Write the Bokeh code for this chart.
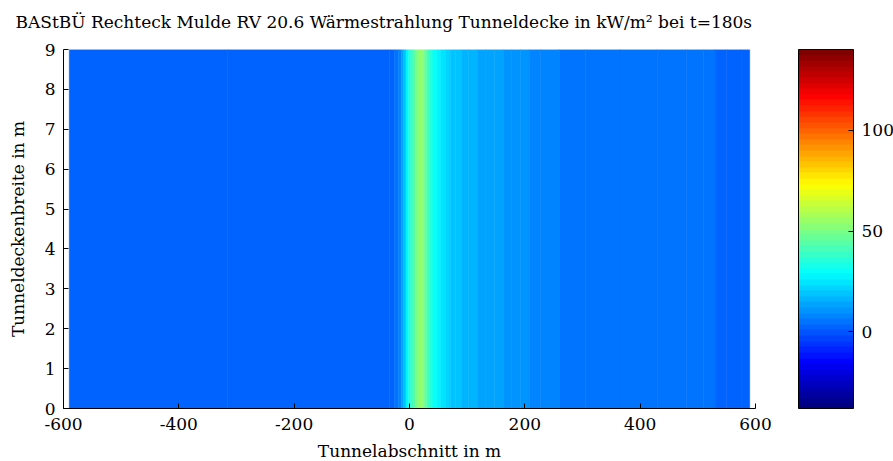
import numpy as np
from bokeh.plotting import figure
from bokeh.models import LinearColorMapper, ColorBar, FixedTicker, ColumnDataSource, Range1d, Title
from bokeh.transform import transform
from bokeh.embed import file_html
from bokeh.resources import INLINE

# Längsprofil der Wärmestrahlung an der Tunneldecke (t = 180 s)
abschnitt_m = [-590, -40, -30, -22, -16, -12, -8, -4, 0, 4, 8, 12, 16, 20, 24, 28,
               32, 36, 40, 45, 50, 58, 66, 75, 85, 95, 110, 125, 140, 155, 170,
               185, 200, 215, 240, 280, 330, 400, 460, 500, 520, 540, 560, 590]
strahlung_kw_m2 = [2, 2, 3, 5, 9, 14, 20, 27, 33, 39, 44, 49, 52, 54, 52, 47,
                   41, 36, 32, 29, 27, 25, 22, 20, 18, 17, 15, 14, 13, 13, 12,
                   11, 10, 9, 7, 6, 5.5, 5.5, 5.5, 5.5, 4, 3, 2.5, 2.5]
breite_m = [0, 9]

x_ticks = [-600, -400, -200, 0, 200, 400, 600]
y_ticks = [0, 1, 2, 3, 4, 5, 6, 7, 8, 9]
cbar_ticks = [0, 50, 100]
farb_min, farb_max = -38, 140
titel = "BAStBÜ Rechteck Mulde RV 20.6 Wärmestrahlung Tunneldecke in kW/m² bei t=180s"

FONT = "DejaVu Serif"
FS = "17px"
FRAME_W, FRAME_H = 692, 359


def jet(n):
    t = np.linspace(0, 1, n)
    r = np.clip(1.5 - np.abs(4 * t - 3), 0, 1)
    g = np.clip(1.5 - np.abs(4 * t - 2), 0, 1)
    b = np.clip(1.5 - np.abs(4 * t - 1), 0, 1)
    return ["#%02x%02x%02x" % (int(round(R * 255)), int(round(G * 255)), int(round(B * 255)))
            for R, G, B in zip(r, g, b)]


palette = jet(64)
mapper = LinearColorMapper(palette=palette, low=farb_min, high=farb_max)

xs = np.array(abschnitt_m, dtype=float)
mids = (xs[:-1] + xs[1:]) / 2
left = np.concatenate([[xs[0]], mids])
right = np.concatenate([mids, [xs[-1]]])
src = ColumnDataSource(dict(left=left, right=right,
                            bottom=[breite_m[0]] * len(xs), top=[breite_m[1]] * len(xs),
                            val=strahlung_kw_m2))

p = figure(frame_width=FRAME_W, frame_height=FRAME_H, output_backend="svg", toolbar_location=None,
           x_range=Range1d(x_ticks[0], x_ticks[-1]), y_range=Range1d(y_ticks[0], y_ticks[-1]),
           min_border_left=63, min_border_bottom=53, min_border_top=49, min_border_right=138)

p.quad(left="left", right="right", bottom="bottom", top="top", source=src,
       fill_color=transform("val", mapper), line_color=transform("val", mapper), line_width=0.5)

# a blank line between frame and heading keeps the heading near the page top
p.add_layout(Title(text=" ", text_font_size="14px", standoff=0), "above")
p.add_layout(Title(text=titel, text_font=FONT, text_font_size=FS, text_font_style="normal",
                   text_color="black", align="left", offset=-48, standoff=0), "above")

p.outline_line_color = None
p.xgrid.visible = False
p.ygrid.visible = False
p.background_fill_color = "white"
p.border_fill_color = "white"

for ax in (p.xaxis[0], p.yaxis[0]):
    ax.axis_line_color = "black"
    ax.major_tick_line_color = "black"
    ax.major_tick_in = 5
    ax.major_tick_out = 0
    ax.minor_tick_line_color = None
    ax.major_label_text_font = FONT
    ax.major_label_text_font_size = FS
    ax.major_label_text_color = "black"
    ax.axis_label_text_font = FONT
    ax.axis_label_text_font_size = FS
    ax.axis_label_text_font_style = "normal"
    ax.axis_label_text_color = "black"

p.xaxis.ticker = FixedTicker(ticks=x_ticks)
p.yaxis.ticker = FixedTicker(ticks=y_ticks)
p.xaxis.major_label_overrides = {t: str(t) for t in x_ticks}
p.yaxis.major_label_overrides = {t: str(t) for t in y_ticks}
p.xaxis.axis_label = "Tunnelabschnitt in m"
p.yaxis.axis_label = "Tunneldeckenbreite in m"
p.xaxis.major_label_standoff = 9
p.yaxis.major_label_standoff = 8
p.xaxis.axis_label_standoff = 8
p.yaxis.axis_label_standoff = 14

cbar = ColorBar(color_mapper=mapper, ticker=FixedTicker(ticks=cbar_ticks),
                major_label_overrides={t: str(t) for t in cbar_ticks},
                width=55, height=FRAME_H, padding=0, margin=0, location=(43, 0),
                bar_line_color="black", bar_line_width=1,
                major_tick_line_color="black", major_tick_in=5, major_tick_out=0,
                major_label_text_font=FONT, major_label_text_font_size=FS,
                major_label_text_color="black",
                label_standoff=8, background_fill_color=None)
p.add_layout(cbar, "right")

open("out.html", "w").write(file_html(p, INLINE))
